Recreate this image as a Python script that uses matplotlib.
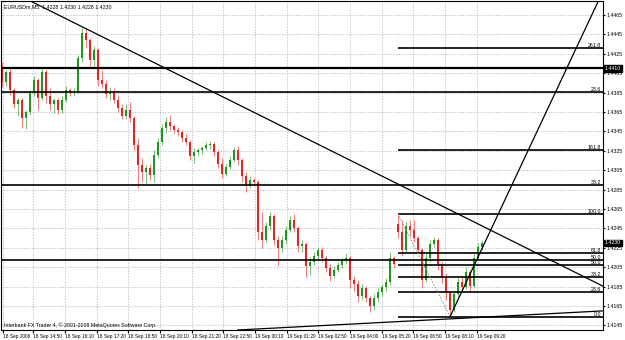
import matplotlib
matplotlib.use("Agg")
import matplotlib.pyplot as plt

plt.rcParams["font.family"] = ["Liberation Sans", "DejaVu Sans"]

# EURUSDm M5 candles (every second bar)
opens = [1.4410, 1.4396, 1.4406, 1.4388, 1.4373, 1.4377, 1.4359, 1.4365, 1.4386, 1.4398,
         1.4379, 1.4406, 1.4382, 1.4373, 1.4377, 1.4367, 1.4377, 1.4388, 1.4386, 1.4387,
         1.4421, 1.4447, 1.4439, 1.4419, 1.4429, 1.4398, 1.4394, 1.4384, 1.4386, 1.4377,
         1.4369, 1.4361, 1.4367, 1.4359, 1.4331, 1.4310, 1.4303, 1.4307, 1.4300, 1.4321,
         1.4334, 1.4349, 1.4355, 1.4351, 1.4346, 1.4344, 1.4338, 1.4334, 1.4320, 1.4324,
         1.4326, 1.4328, 1.4331, 1.4332, 1.4324, 1.4311, 1.4301, 1.4308, 1.4316, 1.4326,
         1.4316, 1.4299, 1.4289, 1.4295, 1.4293, 1.4241, 1.4233, 1.4248, 1.4258, 1.4233,
         1.4225, 1.4233, 1.4243, 1.4254, 1.4245, 1.4227, 1.4229, 1.4206, 1.4210, 1.4217,
         1.4223, 1.4215, 1.4204, 1.4196, 1.4202, 1.4207, 1.4212, 1.4215, 1.4192, 1.4188,
         1.4175, 1.4184, 1.4173, 1.4165, 1.4173, 1.4179, 1.4185, 1.4190, 1.4215, 1.4250,
         1.4241, 1.4223, 1.4248, 1.4243, 1.4235, 1.4223, 1.4192, 1.4215, 1.4229, 1.4233,
         1.4208, 1.4194, 1.4179, 1.4161, 1.4177, 1.4190, 1.4185, 1.4200, 1.4186, 1.4215,
         1.4226]
highs = [1.4417, 1.4408, 1.4410, 1.4390, 1.4380, 1.4379, 1.4367, 1.4388, 1.4402, 1.4400,
         1.4410, 1.4408, 1.4390, 1.4380, 1.4379, 1.4382, 1.4392, 1.4390, 1.4390, 1.4424,
         1.4453, 1.4452, 1.4441, 1.4433, 1.4431, 1.4408, 1.4398, 1.4391, 1.4390, 1.4383,
         1.4373, 1.4373, 1.4375, 1.4361, 1.4338, 1.4318, 1.4310, 1.4311, 1.4326, 1.4338,
         1.4353, 1.4360, 1.4362, 1.4353, 1.4350, 1.4346, 1.4342, 1.4336, 1.4328, 1.4328,
         1.4330, 1.4334, 1.4335, 1.4334, 1.4326, 1.4318, 1.4311, 1.4320, 1.4329, 1.4330,
         1.4318, 1.4303, 1.4299, 1.4297, 1.4295, 1.4262, 1.4252, 1.4262, 1.4260, 1.4237,
         1.4237, 1.4248, 1.4258, 1.4260, 1.4248, 1.4233, 1.4231, 1.4216, 1.4221, 1.4226,
         1.4226, 1.4217, 1.4208, 1.4206, 1.4210, 1.4215, 1.4220, 1.4217, 1.4196, 1.4192,
         1.4188, 1.4186, 1.4175, 1.4177, 1.4184, 1.4188, 1.4194, 1.4221, 1.4217, 1.4260,
         1.4254, 1.4252, 1.4254, 1.4254, 1.4237, 1.4225, 1.4220, 1.4233, 1.4236, 1.4235,
         1.4210, 1.4199, 1.4181, 1.4181, 1.4194, 1.4195, 1.4205, 1.4202, 1.4220, 1.4230,
         1.4233]
lows = [1.4391, 1.4392, 1.4383, 1.4369, 1.4361, 1.4349, 1.4348, 1.4362, 1.4382, 1.4367,
        1.4377, 1.4374, 1.4367, 1.4364, 1.4363, 1.4364, 1.4375, 1.4382, 1.4382, 1.4385,
        1.4417, 1.4431, 1.4412, 1.4412, 1.4392, 1.4390, 1.4380, 1.4377, 1.4374, 1.4365,
        1.4358, 1.4358, 1.4355, 1.4326, 1.4287, 1.4293, 1.4290, 1.4295, 1.4293, 1.4318,
        1.4331, 1.4343, 1.4346, 1.4343, 1.4340, 1.4334, 1.4331, 1.4316, 1.4312, 1.4320,
        1.4322, 1.4326, 1.4327, 1.4320, 1.4307, 1.4297, 1.4299, 1.4306, 1.4313, 1.4310,
        1.4293, 1.4283, 1.4287, 1.4289, 1.4233, 1.4225, 1.4231, 1.4243, 1.4228, 1.4206,
        1.4221, 1.4229, 1.4241, 1.4241, 1.4221, 1.4221, 1.4195, 1.4197, 1.4207, 1.4212,
        1.4210, 1.4200, 1.4191, 1.4194, 1.4200, 1.4204, 1.4208, 1.4184, 1.4181, 1.4169,
        1.4171, 1.4169, 1.4159, 1.4161, 1.4169, 1.4175, 1.4181, 1.4187, 1.4204, 1.4235,
        1.4217, 1.4221, 1.4237, 1.4231, 1.4220, 1.4184, 1.4190, 1.4210, 1.4226, 1.4202,
        1.4189, 1.4171, 1.4154, 1.4159, 1.4173, 1.4180, 1.4183, 1.4179, 1.4184, 1.4213,
        1.4223]
closes = [1.4396, 1.4406, 1.4388, 1.4373, 1.4377, 1.4359, 1.4365, 1.4386, 1.4398, 1.4379,
          1.4406, 1.4382, 1.4373, 1.4377, 1.4367, 1.4377, 1.4388, 1.4386, 1.4387, 1.4421,
          1.4447, 1.4439, 1.4419, 1.4429, 1.4398, 1.4394, 1.4384, 1.4386, 1.4377, 1.4369,
          1.4361, 1.4367, 1.4359, 1.4331, 1.4310, 1.4303, 1.4307, 1.4300, 1.4321, 1.4334,
          1.4349, 1.4355, 1.4351, 1.4346, 1.4344, 1.4338, 1.4334, 1.4320, 1.4324, 1.4326,
          1.4328, 1.4331, 1.4332, 1.4324, 1.4311, 1.4301, 1.4308, 1.4316, 1.4326, 1.4316,
          1.4299, 1.4289, 1.4295, 1.4293, 1.4241, 1.4233, 1.4248, 1.4258, 1.4233, 1.4225,
          1.4233, 1.4243, 1.4254, 1.4245, 1.4227, 1.4229, 1.4206, 1.4210, 1.4217, 1.4223,
          1.4215, 1.4204, 1.4196, 1.4202, 1.4207, 1.4212, 1.4215, 1.4192, 1.4188, 1.4175,
          1.4184, 1.4173, 1.4165, 1.4173, 1.4179, 1.4185, 1.4190, 1.4215, 1.4208, 1.4241,
          1.4223, 1.4248, 1.4243, 1.4235, 1.4223, 1.4192, 1.4215, 1.4229, 1.4233, 1.4208,
          1.4194, 1.4179, 1.4161, 1.4177, 1.4190, 1.4185, 1.4200, 1.4186, 1.4215, 1.4226,
          1.4230]

time_labels = ["18 Sep 2008", "18 Sep 14:50", "18 Sep 16:10", "18 Sep 17:20", "18 Sep 18:50",
               "18 Sep 20:10", "18 Sep 21:20", "18 Sep 22:50", "19 Sep 00:10", "19 Sep 01:20",
               "19 Sep 02:50", "19 Sep 04:00", "19 Sep 05:20", "19 Sep 06:50", "19 Sep 08:10",
               "19 Sep 09:20"]
time_label_bars = [0.25, 7.75, 15.75, 23.75, 31.5, 39.5, 47.5, 55.25, 63.25, 71.25,
                   79, 87, 95, 102.75, 110.75, 118.75]

price_ticks = [1.4465, 1.4445, 1.4425, 1.4405, 1.4385, 1.4365, 1.4345, 1.4325, 1.4305,
               1.4285, 1.4265, 1.4245, 1.4225, 1.4205, 1.4185, 1.4165, 1.4145]

# objects on the chart
hline_price = 1.4410
fib_big_levels = [23.6, 38.2, 50.0]
fib_big_prices = [1.4386, 1.4290, 1.4212]
fib_start_bar, fib_high, fib_low_bar, fib_low = 99, 1.4260, 112, 1.4154
fib_levels = [0.0, 23.6, 38.2, 50.0, 61.8, 100.0, 161.8, 261.8]
trend_down = [(20, 1.4453), (150, 1.4186)]
trend_up = [(112, 1.4154), (137.75, 1.4380)]
trend_base = [(57.5, 1.4140), (150.25, 1.4160)]
header = "EURUSDm,M5  1.4228 1.4230 1.4228 1.4230"
footer = "Interbank FX Trader 4, \u00a9 2001-2008 MetaQuotes Software Corp."

fs = 3.8
fig = plt.figure(figsize=(6.25, 3.4), dpi=100)
ax = fig.add_axes([1 / 625, 10 / 340, 602 / 625, 329 / 340])
ax.set_xlim(-0.25, 150.25)
ax.set_ylim(1.41403, 1.44795)

green, red = "#1a9a1a", "#ff1a1a"
for i in range(len(closes)):
    up = closes[i] >= opens[i]
    col = green if up else red
    ax.vlines(i, lows[i], highs[i], color=col, lw=0.7, alpha=0.6)
    lo, hi = min(opens[i], closes[i]), max(opens[i], closes[i])
    ax.bar(i, max(hi - lo, 0.00004), bottom=lo, width=0.7, color=col, lw=0)

# horizontal lines
ax.axhline(hline_price, color="black", lw=1.6)
for lev, p in zip(fib_big_levels, fib_big_prices):
    ax.axhline(p, color="black", lw=1.2)
    ax.text(149.8, p, f"{lev:.1f}", fontsize=fs, ha="right", va="bottom")

rng = fib_high - fib_low
for lev in fib_levels:
    p = fib_low + rng * lev / 100
    ax.hlines(p, fib_start_bar, 150.25, color="black", lw=1.2)
    ax.text(149.8, p, f"{lev:.1f}", fontsize=fs, ha="right", va="bottom")
ax.plot([fib_start_bar, fib_low_bar], [fib_high, fib_low], color="#909090",
        lw=0.7, ls=(0, (1.5, 1.5)))

# trend lines
ax.axline(trend_down[0], trend_down[1], color="black", lw=0.9)
ax.axline(trend_base[0], trend_base[1], color="black", lw=0.9)
(x0, y0), (x1, y1) = trend_up
slope = (y1 - y0) / (x1 - x0)
ax.plot([x0, x0 + 60], [y0, y0 + 60 * slope], color="black", lw=0.9)

# grid and axes
ax.set_xticks(time_label_bars)
ax.set_xticklabels(time_labels, fontsize=3.4, ha="left")
ax.tick_params(axis="x", length=2, pad=1)
ax.yaxis.tick_right()
ax.set_yticks(price_ticks)
ax.set_yticklabels([f"{p:.4f}" for p in price_ticks], fontsize=fs)
ax.tick_params(axis="y", length=1.5, pad=1)
ax.grid(True, color="#a8b0c0", lw=0.5, ls=(0, (2, 2)))
ax.set_axisbelow(True)
for s in ax.spines.values():
    s.set_linewidth(0.8)

# price markers on the right scale
for p in [hline_price, closes[-1]]:
    ax.text(1.003, p, f"{p:.4f}", transform=ax.get_yaxis_transform(), fontsize=fs,
            color="white", va="center", ha="left",
            bbox=dict(boxstyle="square,pad=0.15", fc="black", ec="black"))

ax.text(0.005, 0.99, header, transform=ax.transAxes, fontsize=fs, va="top")
ax.text(0.005, 0.005, footer, transform=ax.transAxes, fontsize=fs, va="bottom")

fig.savefig("out.png", dpi=100, facecolor="white")
